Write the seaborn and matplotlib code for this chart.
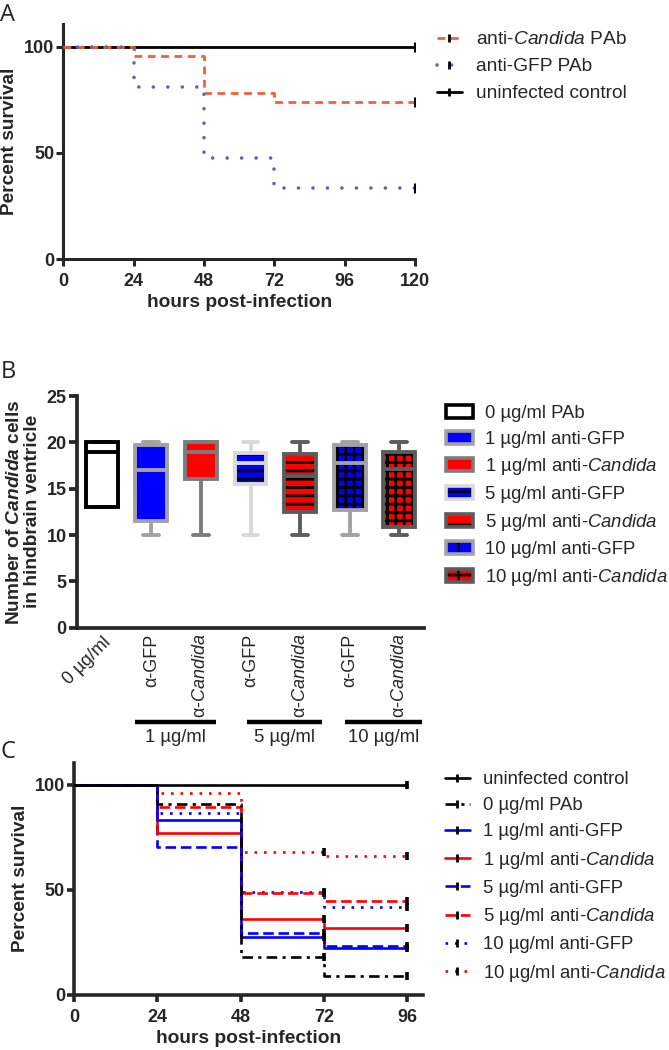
import numpy as np
import pandas as pd
import matplotlib
matplotlib.use("Agg")
import matplotlib.pyplot as plt
import seaborn as sns
from matplotlib.patches import Patch, PathPatch
from matplotlib.lines import Line2D
from matplotlib.legend_handler import HandlerTuple
import matplotlib.transforms as mtransforms

# ---------------- data ----------------
# Panel A
hours_A = [0, 24, 48, 72, 120]
surv_A_candida = [100, 95.5, 78, 74, 74]
surv_A_gfp = [100, 81, 47.5, 33.5, 33.5]
surv_A_control = [100, 100, 100, 100, 100]
labels_A = ["anti-$\\mathit{Candida}$ PAb", "anti-GFP PAb", "uninfected control"]

# Panel B (min, q1, median, q3, max per group)
groups_B = ["0 µg/ml PAb", "1 µg/ml anti-GFP", "1 µg/ml anti-$\\mathit{Candida}$",
            "5 µg/ml anti-GFP", "5 µg/ml anti-$\\mathit{Candida}$",
            "10 µg/ml anti-GFP", "10 µg/ml anti-$\\mathit{Candida}$"]
ticklabels_B = ["0 µg/ml", "α-GFP", "α-$\\mathit{Candida}$", "α-GFP",
                "α-$\\mathit{Candida}$", "α-GFP", "α-$\\mathit{Candida}$"]
b_min = [13, 10, 10, 10, 10, 10, 10]
b_q1 = [13, 11.5, 16, 15.5, 12.5, 12.7, 10.9]
b_med = [19, 17, 19, 17.8, 16.4, 17.8, 17.1]
b_q3 = [20, 19.75, 20, 18.9, 18.7, 19.75, 19.0]
b_max = [20, 20, 20, 20, 20, 20, 20]
conc_groups_B = ["1 µg/ml", "5 µg/ml", "10 µg/ml"]

# Panel C
hours_C = [0, 24, 48, 72, 96]
labels_C = ["uninfected control", "0 µg/ml PAb", "1 µg/ml anti-GFP",
            "1 µg/ml anti-$\\mathit{Candida}$", "5 µg/ml anti-GFP",
            "5 µg/ml anti-$\\mathit{Candida}$", "10 µg/ml anti-GFP",
            "10 µg/ml anti-$\\mathit{Candida}$"]
c_control = [100, 100, 100, 100, 100]
c_0 = [100, 91, 18, 9, 9]
c_1gfp = [100, 83.3, 27.7, 22.2, 22.2]
c_1cand = [100, 77.3, 36.2, 31.6, 31.6]
c_5gfp = [100, 70.6, 29.3, 23.4, 23.4]
c_5cand = [100, 89.7, 48.3, 44.7, 44.7]
c_10gfp = [100, 86.5, 48.8, 41.8, 41.8]
c_10cand = [100, 96.2, 67.9, 66.3, 66.3]

# ---------------- style ----------------
sns.set_style("ticks")
plt.rcParams["font.family"] = ["Liberation Sans", "DejaVu Sans"]
plt.rcParams["mathtext.fontset"] = "custom"
plt.rcParams["mathtext.rm"] = "Liberation Sans"
plt.rcParams["mathtext.it"] = "Liberation Sans:italic"
plt.rcParams["mathtext.bf"] = "Liberation Sans:bold:italic"
plt.rcParams["hatch.linewidth"] = 2.0
plt.rcParams["axes.linewidth"] = 2.3

TICK_FS = 13
LABEL_FS = 13.8
LEG_FS_A = 13.8
LEG_FS = 13.3

fig = plt.figure(figsize=(6.69, 10.5), dpi=100)
W, H = 669, 1050


def add_axes_px(left, top, right, bottom):
    return fig.add_axes([left / W, 1 - bottom / H, (right - left) / W, (bottom - top) / H])


def style_axes(ax, lw):
    sns.despine(ax=ax)
    for s in ["left", "bottom"]:
        ax.spines[s].set_linewidth(lw)
    ax.tick_params(axis="both", width=lw, length=5, labelsize=TICK_FS)
    for lab in ax.get_yticklabels() + ax.get_xticklabels():
        lab.set_fontweight("bold")


# ---------------- Panel A ----------------
axA = add_axes_px(63.3, 24.3, 415, 259.3)
orange = "#f0603c"
purple = "#6660b4"
dfA = pd.DataFrame({"t": hours_A, "cand": surv_A_candida, "gfp": surv_A_gfp, "ctrl": surv_A_control})
sns.lineplot(data=dfA, x="t", y="ctrl", color="black", lw=2.0, drawstyle="steps-post",
             errorbar=None, ax=axA, zorder=3)
sns.lineplot(data=dfA, x="t", y="cand", color=orange, lw=2.0, drawstyle="steps-post",
             linestyle=(0, (2.8, 2.0)), errorbar=None, ax=axA, zorder=4)
sns.lineplot(data=dfA, x="t", y="gfp", color=purple, lw=2.6, drawstyle="steps-post",
             linestyle=(0, (0.01, 4.0)), dash_capstyle="round", errorbar=None, ax=axA, zorder=4)
sns.scatterplot(x=[hours_A[-1]] * 3, y=[surv_A_control[-1], surv_A_candida[-1], surv_A_gfp[-1]],
                marker="|", color="black", s=45, linewidth=2.2, ax=axA, zorder=5)
axA.set_xlim(0, 120)
axA.set_ylim(0, 110.5)
axA.set_xticks([0, 24, 48, 72, 96, 120])
axA.set_yticks([0, 50, 100])
axA.set_xlabel("hours post-infection", fontsize=LABEL_FS, fontweight="bold", labelpad=3)
axA.set_ylabel("Percent survival", fontsize=LABEL_FS, fontweight="bold", labelpad=4)
style_axes(axA, 2.2)
axA.tick_params(axis="x", pad=5)
axA.tick_params(axis="y", pad=1.5)

hA = [Line2D([0], [0], color=orange, lw=2.0, linestyle=(0, (2.8, 2.0)), marker="|",
             markeredgecolor="black", markersize=6, markeredgewidth=2),
      Line2D([0], [0], color=purple, lw=2.6, linestyle=(0, (0.01, 4.0)), dash_capstyle="round",
             marker="|", markeredgecolor="black", markersize=6, markeredgewidth=2),
      Line2D([0], [0], color="black", lw=2.0, marker="|", markersize=6, markeredgewidth=2)]
fig.legend(hA, labels_A, loc="upper left", bbox_to_anchor=(437 / W, 1 - 31 / H),
           frameon=False, fontsize=LEG_FS_A, handlelength=1.3, handletextpad=0.75,
           labelspacing=0.5, borderpad=0, borderaxespad=0, numpoints=1)

# ---------------- Panel B ----------------
axB = add_axes_px(77, 396, 424, 627.7)
fills_B = ["white", "#0000ff", "#ff0000", "#0000ff", "#ff0000", "#0000ff", "#ff0000"]
edges_B = ["black", "#a2a2a2", "#7c7c7c", "#d9d9d9", "#5c5c5c", "#a2a2a2", "#5c5c5c"]
hatches_B = [None, None, None, "--", "--", "++", "++"]

rows = []
for g, a, b, c, d, e in zip(groups_B, b_min, b_q1, b_med, b_q3, b_max):
    for v in (a, b, c, d, e):
        rows.append((g, v))
dfB = pd.DataFrame(rows, columns=["group", "value"])
sns.boxplot(data=dfB, x="group", y="value", hue="group", order=groups_B, hue_order=groups_B,
            palette=fills_B, whis=(0, 100), width=0.64, linewidth=2.6, linecolor="black",
            legend=False, saturation=1, ax=axB)

for p in list(axB.patches):
    verts = p.get_path().vertices
    idx = int(round(np.mean(verts[:, 0])))
    if idx < 0 or idx > 6:
        continue
    if hatches_B[idx]:
        p.set_hatch(hatches_B[idx])
        p.set_edgecolor("black")
        p.set_linewidth(0)
        ov = PathPatch(p.get_path(), transform=p.get_transform(), facecolor="none",
                       edgecolor=edges_B[idx], linewidth=2.8, zorder=p.get_zorder() + 0.5)
        axB.add_patch(ov)
    else:
        p.set_edgecolor(edges_B[idx])
        p.set_linewidth(2.8)
for ln in axB.lines:
    xd = np.asarray(ln.get_xdata(), dtype=float)
    if xd.size == 0:
        continue
    idx = int(round(np.mean(xd)))
    if 0 <= idx <= 6:
        ln.set_color(edges_B[idx])
        ln.set_linewidth(2.8)
        ln.set_zorder(3)

axB.set_xlim(-0.5, 6.5)
axB.set_ylim(0, 25)
axB.set_yticks([0, 5, 10, 15, 20, 25])
axB.set_xlabel("")
axB.set_ylabel("Number of $\\mathbf{Candida}$ cells\nin hindbrain ventricle", fontsize=LABEL_FS,
               fontweight="bold", labelpad=4, linespacing=1.05)
style_axes(axB, 2.7)
axB.tick_params(axis="y", pad=1.5, length=6)
axB.tick_params(axis="x", length=0, pad=4)
axB.set_xticks(range(len(ticklabels_B)))
axB.set_xticklabels(ticklabels_B, fontsize=TICK_FS, fontweight="normal")
for i, lab in enumerate(axB.get_xticklabels()):
    if i == 0:
        lab.set_rotation(45)
        lab.set_ha("right")
        lab.set_va("top")
        lab.set_rotation_mode("anchor")
    else:
        lab.set_rotation(90)
        lab.set_ha("center")
        lab.set_va("top")

trB = mtransforms.blended_transform_factory(axB.transData, axB.transAxes)
bar_spans = [(0.66, 2.31), (2.92, 4.44), (4.91, 6.45)]
for (x0, x1), txt in zip(bar_spans, conc_groups_B):
    axB.plot([x0, x1], [-0.407, -0.407], transform=trB, color="black", lw=3.2,
             clip_on=False, solid_capstyle="butt")
    axB.text((x0 + x1) / 2, -0.438, txt, transform=trB, ha="center", va="top",
             fontsize=LEG_FS)

hB = []
for f, e, h in zip(fills_B, edges_B, hatches_B):
    if h:
        hB.append((Patch(facecolor=f, edgecolor="black", hatch=h[0], linewidth=0),
                   Patch(facecolor="none", edgecolor=e, linewidth=2.6)))
    else:
        hB.append(Patch(facecolor=f, edgecolor=e, linewidth=2.6))
fig.legend(hB, groups_B, loc="upper left", bbox_to_anchor=(446 / W, 1 - 405 / H),
           frameon=False, fontsize=LEG_FS, handlelength=1.45, handleheight=0.7,
           handletextpad=0.65, labelspacing=0.47, borderpad=0, borderaxespad=0,
           handler_map={tuple: HandlerTuple(ndivide=1, pad=0)})

# ---------------- Panel C ----------------
axC = add_axes_px(74, 762.7, 423, 994.7)
series_C = [c_control, c_0, c_1gfp, c_1cand, c_5gfp, c_5cand, c_10gfp, c_10cand]
colors_C = ["black", "black", "#0000ff", "#ff0000", "#0000ff", "#ff0000", "#0000ff", "#ff0000"]
styles_C = ["-", (0, (4.0, 2.0, 1.2, 2.0)), "-", "-", (0, (4.0, 1.8)), (0, (4.0, 1.8)),
            (0, (1.0, 2.6)), (0, (1.0, 2.6))]
order_draw = [7, 6, 5, 4, 3, 2, 1, 0]
for i in order_draw:
    d = pd.DataFrame({"t": hours_C, "s": series_C[i]})
    sns.lineplot(data=d, x="t", y="s", color=colors_C[i], lw=1.9, linestyle=styles_C[i],
                 drawstyle="steps-post", errorbar=None, ax=axC, zorder=3 + (8 - i) * 0.01)
mx, my = [96], [c_control[-1]]
for s in series_C[1:]:
    mx += [72, 96]
    my += [s[2], s[3]]
sns.scatterplot(x=mx, y=my, marker="|", color="black", s=30, linewidth=2.6, ax=axC, zorder=6)
axC.set_xlim(0, 100.6)
axC.set_ylim(0, 110.6)
axC.set_xticks([0, 24, 48, 72, 96])
axC.set_yticks([0, 50, 100])
axC.set_xlabel("hours post-infection", fontsize=LABEL_FS, fontweight="bold", labelpad=3)
axC.set_ylabel("Percent survival", fontsize=LABEL_FS, fontweight="bold", labelpad=4)
style_axes(axC, 2.6)
axC.tick_params(axis="x", pad=5)
axC.tick_params(axis="y", pad=1.5)

hC = [Line2D([0], [0], color=c, lw=1.9, linestyle=st, marker="|", markeredgecolor="black",
             markersize=6, markeredgewidth=2) for c, st in zip(colors_C, styles_C)]
fig.legend(hC, labels_C, loc="upper left", bbox_to_anchor=(445 / W, 1 - 771 / H),
           frameon=False, fontsize=LEG_FS, handlelength=1.35, handletextpad=0.7,
           labelspacing=0.5, borderpad=0, borderaxespad=0, numpoints=1)

# ---------------- panel letters ----------------
for letter, ypx in [("A", 3), ("B", 360), ("C", 740)]:
    fig.text(0.5 / W, 1 - ypx / H, letter, fontsize=17, family=["Open Sans", "DejaVu Sans"],
             ha="left", va="top")

fig.savefig("out.png", dpi=100)
